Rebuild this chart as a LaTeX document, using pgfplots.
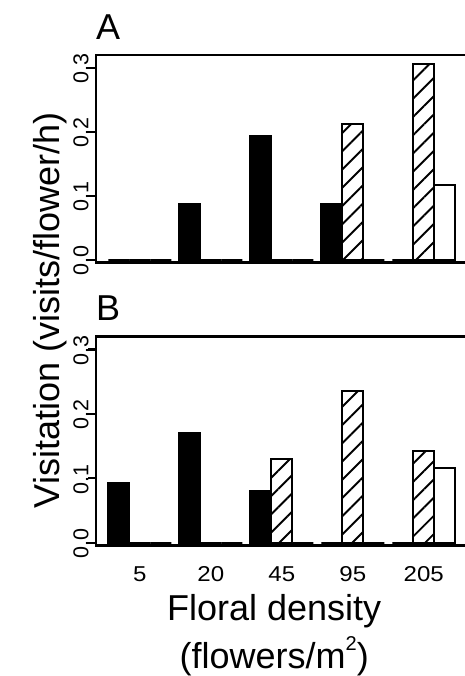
\documentclass[border=0pt]{standalone}
\usepackage{fontspec}
\setmainfont{Liberation Sans}
\usepackage{pgfplots}
\pgfplotsset{compat=1.18}
\usepackage{pgfplotstable}
\usetikzlibrary{patterns.meta}

\pgfplotstableread{
x black hatch white
0 0      0      0
1 0.0875 0      0
2 0.194  0      0
3 0.0875 0.212  0
4 0      0.3058 0.1167
}\dataA

\pgfplotstableread{
x black hatch white
0 0.093  0      0
1 0.171  0      0
2 0.0796 0.130  0
3 0      0.2357 0
4 0      0.143  0.1155
}\dataB

\newcommand\tickfont{\fontsize{21.5}{25}\selectfont}
\newcommand\labfont{\fontsize{36}{43}\selectfont}
\newcommand\xl[1]{\scalebox{1.12}[1]{#1}}

\pgfplotsset{
  panel/.style={
    scale only axis,
    width=371.6pt,
    xmin=-0.617, xmax=4.617,
    ymin=-0.0047, ymax=0.3198,
    ybar,
    bar width=0.2958,
    xtick={0,1,2,3,4},
    xticklabels={\xl{5},\xl{20},\xl{45},\xl{95},\xl{205}},
    ytick={0,0.1,0.2,0.3},
    yticklabels={0.0,0.1,0.2,0.3},
    ytick pos=left,
    tick align=outside,
    major tick length=7.7pt,
    xtick style={draw=none},
    ytick style={line width=2.2pt, black},
    axis line style={line width=2.6pt, black},
    yticklabel style={rotate=90, anchor=base, font=\tickfont, inner sep=0pt, xshift=-1pt},
    xticklabel style={anchor=base, font=\tickfont, inner sep=0pt, yshift=-27.6pt},
    clip=false,
  },
  sblack/.style={draw=black, line width=2pt, fill=black, bar shift=-0.2958},
  shatch/.style={draw=black, line width=2pt, fill=white,
     postaction={pattern={Lines[angle=45,distance=12.9pt,line width=1.9pt]}}, bar shift=0},
  swhite/.style={draw=black, line width=2pt, fill=white, bar shift=0.2958},
}

\begin{document}
\begin{tikzpicture}
\begin{axis}[panel, height=207.7pt, at={(96pt,-262.7pt)}, anchor=south west,
  xticklabels={}]
  \addplot[sblack] table[x=x,y=black] {\dataA};
  \addplot[shatch] table[x=x,y=hatch] {\dataA};
  \addplot[swhite] table[x=x,y=white] {\dataA};
\end{axis}
\begin{axis}[panel, height=209pt, at={(96pt,-545.7pt)}, anchor=south west]
  \addplot[sblack] table[x=x,y=black] {\dataB};
  \addplot[shatch] table[x=x,y=hatch] {\dataB};
  \addplot[swhite] table[x=x,y=white] {\dataB};
\end{axis}
\node[anchor=base west, inner sep=0pt, font=\labfont] at (96pt,-39.3pt) {A};
\node[anchor=base west, inner sep=0pt, font=\labfont] at (96pt,-320pt) {B};
\node[anchor=base, rotate=90, inner sep=0pt, font=\labfont] at (59.3pt,-310.5pt) {Visitation (visits/flower/h)};
\node[anchor=base, inner sep=0pt, font=\labfont] at (274.2pt,-620pt) {Floral density};
\node[anchor=base, inner sep=0pt, font=\labfont] at (274.2pt,-668pt) {(flowers/m\raisebox{18pt}{\fontsize{20}{20}\selectfont 2})};
\pgfresetboundingbox
\path[use as bounding box] (0,0) rectangle (464pt,-676pt);
\end{tikzpicture}
\end{document}
